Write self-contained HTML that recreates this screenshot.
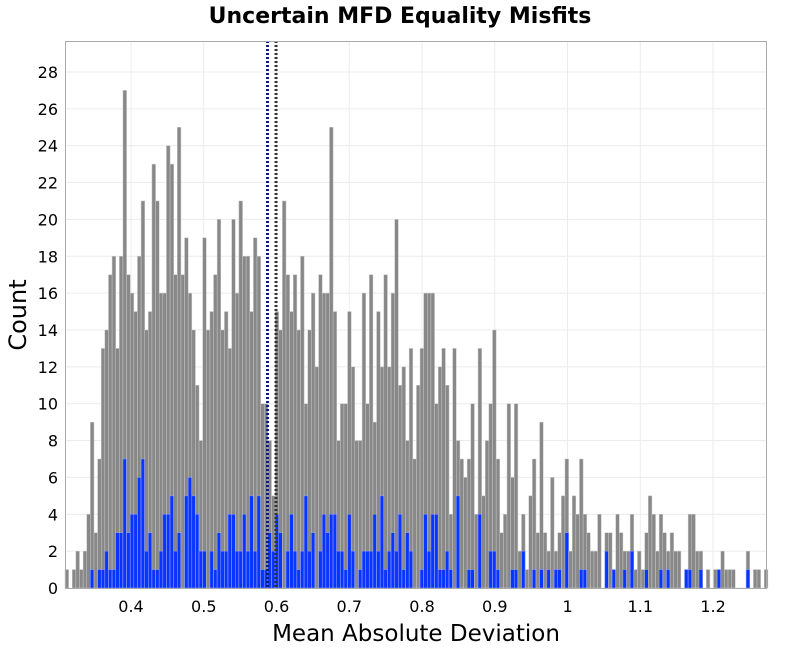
<!DOCTYPE html>
<html><head><meta charset="utf-8"><style>
body{margin:0;background:#fff;font-family:"Liberation Sans","DejaVu Sans",sans-serif;}
svg text{font-family:"DejaVu Sans","Liberation Sans",sans-serif;}
</style></head><body>
<svg id="chart" width="800" height="650" xmlns="http://www.w3.org/2000/svg">
<rect x="0" y="0" width="800" height="650" fill="#fff"/>
<text x="400" y="23" text-anchor="middle" font-size="22" font-weight="bold">Uncertain MFD Equality Misfits</text>
<g id="grid"></g>
<g id="bars"></g>
<g id="lines"></g>
<rect x="65.5" y="41.5" width="701" height="547" fill="none" stroke="#aaa"/>
<g id="yticks"></g>
<g id="xticks"></g>
<text x="0" y="0" transform="translate(26,315) rotate(-90)" text-anchor="middle" font-size="24">Count</text>
<text x="416" y="641" text-anchor="middle" font-size="23">Mean Absolute Deviation</text>
</svg>
<script>
const binStart = 0.30925;
const binWidth = 0.00498;
const grayCounts = [1,0,1,2,1,2,4,9,3,7,13,14,17,18,13,18,27,17,16,15,18,21,14,15,
23,21,16,16,24,23,17,25,17,19,16,14,11,8,19,14,15,17,20,14,15,13,20,
16,21,18,18,15,19,18,10,10,8,5,15,14,21,17,15,17,14,18,10,14,16,12,17,
16,16,25,15,8,10,10,15,12,8,8,16,10,17,9,15,12,17,12,16,20,11,12,8,
13,7,11,13,16,16,16,10,12,13,11,4,13,8,7,6,7,10,4,13,5,8,10,14,
7,3,4,10,6,10,2,4,1,5,7,3,9,3,2,6,2,3,5,7,2,5,4,7,
4,3,2,2,4,0,3,3,1,4,3,2,2,4,1,2,1,3,5,4,2,4,3,2,3,
2,2,0,1,4,4,2,2,0,1,0,1,1,2,1,1,1,0,0,0,2,0,1,1,0,1];
const blueCounts = [0,0,0,0,0,0,0,1,0,1,1,2,1,1,3,3,7,3,4,4,6,7,2,3,
1,1,2,4,4,5,2,3,0,5,6,5,4,2,2,0,2,1,3,2,2,4,4,
2,2,4,2,5,2,5,1,1,3,2,4,3,0,2,4,2,1,2,5,2,3,0,2,
4,3,4,4,2,2,1,4,2,0,1,2,2,2,4,2,5,1,2,3,2,4,1,3,
2,0,0,1,4,2,4,4,1,1,2,1,0,5,0,0,1,1,0,4,0,0,2,2,
1,0,0,0,1,1,0,2,0,0,1,0,1,0,1,0,1,1,0,3,0,0,0,1,
1,0,0,0,0,0,2,0,1,0,0,1,0,2,0,0,0,1,0,0,0,1,0,1,0,
0,0,0,1,1,0,0,1,0,0,0,0,1,0,0,0,0,0,0,0,1,0,0,0,0,0];
const refLines = [0.5876, 0.5993];
const xTicks = [0.4,0.5,0.6,0.7,0.8,0.9,1.0,1.1,1.2];
const xTickLabels = ["0.4","0.5","0.6","0.7","0.8","0.9","1","1.1","1.2"];
const yTicks = [0,2,4,6,8,10,12,14,16,18,20,22,24,26,28];

const X0=65, X1=767, Y0=588, Y1=41;
const xMin=0.30925, xMax=1.27417, yMin=0, yMax=29.68;
function xs(v){return X0+(v-xMin)/(xMax-xMin)*(X1-X0);}
function ys(v){return Y0-(v-yMin)/(yMax-yMin)*(Y0-Y1);}
const NS="http://www.w3.org/2000/svg";
function mk(tag,attrs,parent){const e=document.createElementNS(NS,tag);for(const k in attrs)e.setAttribute(k,attrs[k]);parent.appendChild(e);return e;}
const grid=document.getElementById('grid'), bars=document.getElementById('bars'), lines=document.getElementById('lines');
const yt=document.getElementById('yticks'), xt=document.getElementById('xticks');
yTicks.forEach(t=>{
  const y=ys(t);
  const g=mk('line',{x1:X0,x2:X1,y1:y,y2:y,stroke:'#ececec','stroke-width':1},grid);
  
  
  const tx=mk('text',{x:58,y:y+6,'text-anchor':'end','font-size':16},yt);
  tx.textContent=String(t);
  
  
});
xTicks.forEach((t,i)=>{
  const x=xs(t);
  const g=mk('line',{x1:x,x2:x,y1:Y1,y2:Y0,stroke:'#ececec','stroke-width':1},grid);
  
  
  const tx=mk('text',{x:x,y:612,'text-anchor':'middle','font-size':16},xt);
  tx.textContent=xTickLabels[i];
  
  
});
grayCounts.forEach((c,i)=>{
  const a=binStart+i*binWidth, b=a+binWidth;
  const x=xs(a), w=xs(b)-xs(a);
  if(c>0){
    const r=mk('rect',{x:x,y:ys(c),width:w,height:ys(0)-ys(c),fill:'#888888',stroke:'#c8c8c8','stroke-width':0.5},bars);
    
    
  }
  const bc=blueCounts[i]||0;
  if(bc>0){
    const r=mk('rect',{x:x,y:ys(bc),width:w,height:ys(0)-ys(bc),fill:'#0a35ff',stroke:'#8fa0ff','stroke-width':0.5},bars);
    
    
  }
});
const lineColors=['#0b1f7a','#333333'];
refLines.forEach((v,i)=>{
  const x=xs(v);
  const l=mk('line',{x1:x,x2:x,y1:Y1,y2:Y0,stroke:lineColors[i],'stroke-width':3,'stroke-dasharray':'2,2'},lines);
  
  
});
</script>
</body></html>
